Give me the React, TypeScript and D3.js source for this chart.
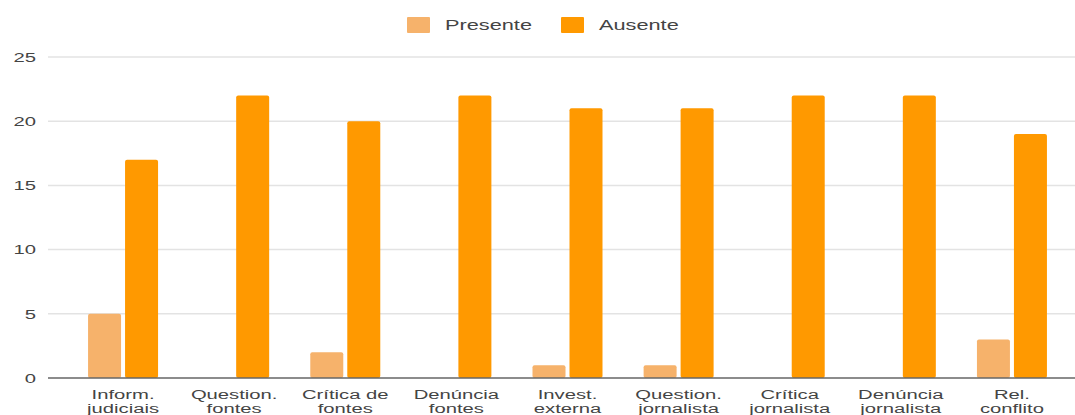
import React from "react";
import * as d3 from "d3";

const categories: string[][] = [
  ["Inform.", "judiciais"],
  ["Question.", "fontes"],
  ["Crítica de", "fontes"],
  ["Denúncia", "fontes"],
  ["Invest.", "externa"],
  ["Question.", "jornalista"],
  ["Crítica", "jornalista"],
  ["Denúncia", "jornalista"],
  ["Rel.", "conflito"],
];
const presente: number[] = [5, 0, 2, 0, 1, 1, 0, 0, 3];
const ausente: number[] = [17, 22, 20, 22, 21, 21, 22, 22, 19];
const seriesNames = ["Presente", "Ausente"];
const seriesColors = ["#f6b26b", "#ff9900"];
const yTicks = [0, 5, 10, 15, 20, 25];

const SX = 1.5;

export default function App() {
  const W = 1075;
  const H = 415;
  const font = "'Liberation Sans', Arial, sans-serif";
  const keys = categories.map((c) => c.join(" "));
  const x0 = d3
    .scaleBand<string>()
    .domain(keys)
    .range([67.5, 1067.5])
    .paddingInner(0.37)
    .paddingOuter(0.185);
  const x1 = d3
    .scaleBand<string>()
    .domain(seriesNames)
    .range([0, x0.bandwidth()])
    .paddingInner(0.108)
    .paddingOuter(0);
  const y = d3.scaleLinear().domain([0, 25]).range([378, 57]);
  const data = [presente, ausente];

  return (
    <svg width={W} height={H} style={{ position: "absolute", left: 0, top: 0, background: "#fff" }}>
      <rect x={0} y={0} width={W} height={H} fill="#fff" />
      {yTicks.map((t) =>
        t === 0 ? null : (
          <line key={"g" + t} x1={48} x2={W} y1={y(t)} y2={y(t)} stroke="#e3e3e3" strokeWidth={1.5} />
        )
      )}
      {yTicks.map((t) => (
        <text
          key={"l" + t}
          transform={`translate(36,${y(t)}) scale(${SX},1)`}
          dy="0.35em"
          textAnchor="end"
          fontFamily={font}
          fontSize={13.5}
          fill="#444"
        >
          {t}
        </text>
      ))}
      {keys.map((k, i) => (
        <g key={k} transform={`translate(${x0(k)},0)`}>
          {seriesNames.map((s, si) => {
            const v = data[si][i];
            if (v <= 0) return null;
            return (
              <rect
                key={s}
                x={x1(s)}
                y={y(v)}
                width={x1.bandwidth()}
                height={y(0) - y(v)}
                fill={seriesColors[si]}
                rx={2}
              />
            );
          })}
          {categories[i].map((line, li) => (
            <text
              key={li}
              transform={`translate(${x0.bandwidth() / 2},${398.5 + li * 14}) scale(${SX},1)`}
              textAnchor="middle"
              fontFamily={font}
              fontSize={13.5}
              fill="#444"
            >
              {line}
            </text>
          ))}
        </g>
      ))}
      <line x1={48} x2={W} y1={y(0)} y2={y(0)} stroke="#666" strokeWidth={1.5} />
      {seriesNames.map((s, i) => {
        const lx = i === 0 ? 407 : 561;
        return (
          <g key={s}>
            <rect x={lx} y={17} width={23} height={16} fill={seriesColors[i]} rx={1} />
            <text
              transform={`translate(${lx + 38},25) scale(${SX},1)`}
              dy="0.35em"
              fontFamily={font}
              fontSize={14.5}
              fill="#444"
            >
              {s}
            </text>
          </g>
        );
      })}
    </svg>
  );
}
